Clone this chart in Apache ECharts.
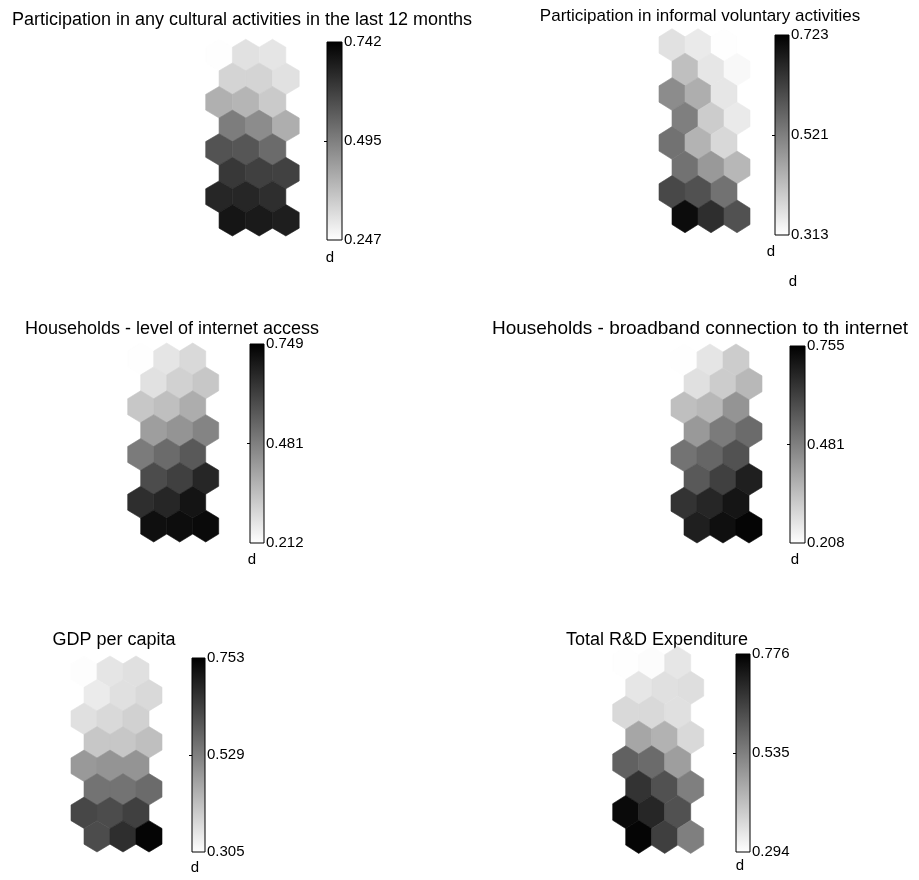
<!DOCTYPE html>
<html>
<head>
<meta charset="utf-8">
<script src="https://cdn.jsdelivr.net/npm/echarts@6/dist/echarts.min.js"></script>
<style>
  html, body { margin: 0; background: #fff; }
  #chart { width: 919px; height: 880px; }
</style>
</head>
<body>
<div id="chart"></div>
<script>
// component plane titles
const titles = [
  'Participation in any cultural activities in the last 12 months',
  'Participation in informal voluntary activities',
  'Households - level of internet access',
  'Households - broadband connection to th internet',
  'GDP per capita',
  'Total R&D Expenditure'
];
const rangeMin = [0.247, 0.313, 0.212, 0.208, 0.305, 0.294];
const rangeMax = [0.742, 0.723, 0.749, 0.755, 0.753, 0.776];
const midLabels = ['0.495', '0.521', '0.481', '0.481', '0.529', '0.535'];

// 8 rows x 3 hex cells each, top row first (odd rows shifted right)
const cultural = [
  [0.249, 0.306, 0.297],
  [0.331, 0.331, 0.306],
  [0.400, 0.390, 0.350],
  [0.500, 0.470, 0.405],
  [0.580, 0.575, 0.534],
  [0.633, 0.618, 0.615],
  [0.668, 0.668, 0.653],
  [0.702, 0.692, 0.683]
];
const voluntary = [
  [0.362, 0.346, 0.315],
  [0.416, 0.354, 0.324],
  [0.498, 0.444, 0.354],
  [0.518, 0.395, 0.346],
  [0.539, 0.436, 0.375],
  [0.539, 0.477, 0.428],
  [0.608, 0.592, 0.539],
  [0.703, 0.649, 0.592]
];
const internetAccess = [
  [0.214, 0.266, 0.293],
  [0.276, 0.309, 0.330],
  [0.330, 0.346, 0.384],
  [0.416, 0.438, 0.470],
  [0.491, 0.523, 0.561],
  [0.588, 0.615, 0.668],
  [0.652, 0.668, 0.706],
  [0.717, 0.722, 0.728]
];
const broadband = [
  [0.210, 0.263, 0.317],
  [0.274, 0.317, 0.361],
  [0.345, 0.361, 0.438],
  [0.427, 0.492, 0.525],
  [0.509, 0.536, 0.580],
  [0.564, 0.618, 0.689],
  [0.646, 0.673, 0.711],
  [0.689, 0.722, 0.744]
];
const gdpPerCapita = [
  [0.309, 0.350, 0.359],
  [0.341, 0.359, 0.372],
  [0.359, 0.372, 0.386],
  [0.404, 0.404, 0.417],
  [0.484, 0.493, 0.493],
  [0.551, 0.551, 0.565],
  [0.628, 0.619, 0.641],
  [0.619, 0.672, 0.744]
];
const rdExpenditure = [
  [0.296, 0.300, 0.342],
  [0.342, 0.352, 0.357],
  [0.366, 0.366, 0.352],
  [0.463, 0.439, 0.366],
  [0.593, 0.574, 0.477],
  [0.680, 0.622, 0.535],
  [0.757, 0.704, 0.622],
  [0.766, 0.656, 0.535]
];
const planes = [cultural, voluntary, internetAccess, broadband, gdpPerCapita, rdExpenditure];

// layout (pixels): hex map boxes, colorbar boxes, title centres/sizes, "d" labels
const hexBoxes = [
  [205.7, 39.3, 93.5, 196.7],
  [659, 28.7, 91, 204],
  [127.7, 343, 91, 199],
  [671, 344, 91, 199],
  [71, 656, 91, 196],
  [612.7, 646.4, 91, 207]
];
const barBoxes = [
  [327, 42, 15, 198],
  [775, 35, 14, 200],
  [250, 344, 14, 199],
  [790, 346, 15, 197],
  [192, 658, 13, 194],
  [736, 654, 14, 198]
];
const titlePos = [[242, 20], [700, 16], [172, 329], [700, 329], [114, 640], [657, 640]];
const titleSize = [18, 17, 18, 19, 18, 18];
const dPos = [[330, 258], [771, 252], [793, 282], [252, 560], [795, 560], [195, 868], [740, 866]];

const FONT = '"Liberation Sans", Arial, sans-serif';
// pointy-top hexagon in data units (x: hex width, y: row spacing)
const hexOffsets = [[0, -2 / 3], [0.5, -1 / 3], [0.5, 1 / 3], [0, 2 / 3], [-0.5, 1 / 3], [-0.5, -1 / 3]];

const chart = echarts.init(document.getElementById('chart'));

const grid = [], xAxis = [], yAxis = [], series = [], visualMap = [], graphic = [];

planes.forEach((plane, i) => {
  const hb = hexBoxes[i], bb = barBoxes[i];
  const mn = rangeMin[i], mx = rangeMax[i], mid = (mn + mx) / 2;
  grid.push({ left: hb[0], top: hb[1], width: hb[2], height: hb[3] });
  grid.push({ left: bb[0], top: bb[1], width: bb[2], height: bb[3] });
  xAxis.push({ type: 'value', gridIndex: 2 * i, min: -0.5, max: 3, show: false });
  xAxis.push({ type: 'value', gridIndex: 2 * i + 1, min: 0, max: 1, show: false });
  yAxis.push({ type: 'value', gridIndex: 2 * i, min: -2 / 3, max: 7 + 2 / 3, inverse: true, show: false });
  yAxis.push({
    type: 'value', gridIndex: 2 * i + 1, position: 'right', min: mn, max: mx,
    axisLine: { show: false }, splitLine: { show: false },
    axisTick: { show: true, inside: true, length: 3, customValues: [mid], lineStyle: { color: '#000' } },
    axisLabel: {
      customValues: [mn, mid, mx], showMinLabel: true, showMaxLabel: true,
      margin: 2, fontSize: 15, color: '#000', fontFamily: FONT,
      formatter: v => Math.abs(v - mid) < 1e-9 ? midLabels[i] : v.toFixed(3)
    }
  });
  yAxis.push({
    type: 'value', gridIndex: 2 * i + 1, position: 'left', min: mn, max: mx,
    axisLine: { show: false }, splitLine: { show: false }, axisLabel: { show: false },
    axisTick: { show: true, inside: true, length: 3, customValues: [mid], lineStyle: { color: '#000' } }
  });

  const cells = [];
  plane.forEach((row, r) => row.forEach((v, c) => cells.push([c + (r % 2) * 0.5, r, v])));

  series.push({
    type: 'custom', xAxisIndex: 2 * i, yAxisIndex: 3 * i,
    data: cells, encode: { x: 0, y: 1 }, silent: true,
    renderItem: (params, api) => {
      const cx = api.value(0), cy = api.value(1);
      const pts = hexOffsets.map(([dx, dy]) => api.coord([cx + dx, cy + dy]));
      const col = api.visual('color');
      return { type: 'polygon', shape: { points: pts }, style: { fill: col, stroke: col, lineWidth: 0.6 } };
    }
  });
  visualMap.push({
    type: 'continuous', show: false, seriesIndex: series.length - 1, dimension: 2,
    min: mn, max: mx, inRange: { color: ['#ffffff', '#000000'] }
  });

  series.push({
    type: 'custom', xAxisIndex: 2 * i + 1, yAxisIndex: 3 * i + 1,
    data: [[0, mn, 1, mx]], encode: { x: [0, 2], y: [1, 3] }, silent: true, z: 1,
    renderItem: (params, api) => {
      const a = api.coord([api.value(0), api.value(3)]);
      const b = api.coord([api.value(2), api.value(1)]);
      return {
        type: 'rect',
        shape: { x: a[0], y: a[1], width: b[0] - a[0], height: b[1] - a[1] },
        style: {
          fill: new echarts.graphic.LinearGradient(0, 0, 0, 1, [
            { offset: 0, color: '#000' }, { offset: 1, color: '#fff' }
          ]),
          stroke: '#000', lineWidth: 1
        }
      };
    }
  });

  graphic.push({
    type: 'text', x: titlePos[i][0], y: titlePos[i][1],
    style: { text: titles[i], fill: '#000', font: titleSize[i] + 'px ' + FONT, textAlign: 'center', textVerticalAlign: 'middle' }
  });
});

dPos.forEach(p => graphic.push({
  type: 'text', x: p[0], y: p[1],
  style: { text: 'd', fill: '#000', font: '15px ' + FONT, textAlign: 'center', textVerticalAlign: 'middle' }
}));

chart.setOption({
  backgroundColor: '#fff',
  animation: false,
  grid, xAxis, yAxis, visualMap, series, graphic
});
</script>
</body>
</html>
